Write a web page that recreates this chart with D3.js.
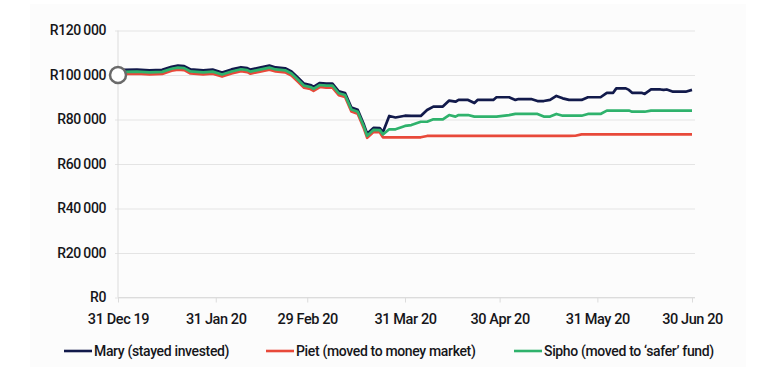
<!DOCTYPE html>
<html>
<head>
<meta charset="utf-8">
<style>
  body { margin: 0; background: #ffffff; }
  #vis-growth text { font-family: Roboto, "Noto Sans", sans-serif; fill: #16161a; }
</style>
</head>
<body>
<div id="vis-growth"></div>

<script src="https://d3js.org/d3.v7.min.js"></script>
<script>

// Data //
// ---- //

const dates = [
  "2019-12-31","2020-01-02","2020-01-06","2020-01-10","2020-01-14","2020-01-17","2020-01-19","2020-01-21",
  "2020-01-23","2020-01-27","2020-01-30","2020-02-02","2020-02-05","2020-02-08","2020-02-10","2020-02-11",
  "2020-02-14","2020-02-17","2020-02-19","2020-02-22","2020-02-24","2020-02-26","2020-02-28","2020-03-01",
  "2020-03-02","2020-03-04","2020-03-06","2020-03-08","2020-03-10","2020-03-12","2020-03-14","2020-03-16",
  "2020-03-18","2020-03-19","2020-03-21","2020-03-23","2020-03-24","2020-03-26","2020-03-28","2020-03-31",
  "2020-04-02","2020-04-05","2020-04-07","2020-04-09","2020-04-12","2020-04-14","2020-04-16","2020-04-17",
  "2020-04-20","2020-04-22","2020-04-23","2020-04-28","2020-04-29","2020-05-03","2020-05-05","2020-05-06",
  "2020-05-10","2020-05-12","2020-05-14","2020-05-16","2020-05-18","2020-05-20","2020-05-22","2020-05-24",
  "2020-05-26","2020-05-28","2020-06-01","2020-06-03","2020-06-05","2020-06-06","2020-06-09","2020-06-10",
  "2020-06-11","2020-06-14","2020-06-15","2020-06-17","2020-06-20","2020-06-21","2020-06-22","2020-06-24",
  "2020-06-28","2020-06-30"
];

const mary = [
  100000,102300,102400,102100,102300,103700,104200,104000,
  102500,102100,102400,101100,102500,103500,103100,102400,
  103300,104200,103400,103000,101600,98900,96100,95500,
  94700,96400,96100,96100,92700,91900,85400,84400,
  77600,73600,76200,76100,74300,81600,80900,81700,
  81600,81600,84300,85800,85800,88500,88000,88800,
  88800,87400,88800,88800,90000,90000,88800,89200,
  89200,88300,88300,88800,90600,89500,88800,88800,
  88800,90000,90000,92000,92000,94000,94000,93300,
  92000,92000,91500,93500,93500,93300,93500,92500,
  92500,93300
];

const piet = [
  100000,100500,100600,100300,100500,101900,102400,102200,
  100700,100300,100600,99300,100700,101700,101300,100600,
  101500,102400,101600,101200,99800,97100,94300,93700,
  92900,94600,94300,94300,90900,90100,83600,82600,
  75800,71800,74400,74300,72000,72000,72000,72000,
  72000,72000,72600,72600,72600,72600,72600,72600,
  72600,72600,72600,72600,72600,72600,72600,72600,
  72600,72600,72600,72600,72600,72600,72600,72700,
  73300,73300,73300,73300,73300,73300,73300,73300,
  73300,73300,73300,73300,73300,73300,73300,73300,
  73300,73300
];

const sipho = [
  100000,101400,101500,101200,101400,102800,103300,103100,
  101600,101200,101500,100200,101600,102600,102200,101500,
  102400,103300,102500,102100,100700,98000,95200,94600,
  93800,95500,95200,95200,91800,91000,84500,83500,
  76700,72700,75300,75200,73300,75600,75600,77100,
  77500,79000,79000,80100,80100,82000,81300,82000,
  82000,81300,81300,81300,81300,82000,82500,82500,
  82500,82500,81300,81300,82500,81700,81700,81700,
  81700,82500,82500,84000,84000,84000,84000,84000,
  83500,83500,83500,84000,84000,84000,84000,84000,
  84000,84000
];

const seriesNames = ["Mary (stayed invested)", "Piet (moved to money market)", "Sipho (moved to \u2018safer\u2019 fund)"];
const seriesColors = ["#121a4b", "#e8493a", "#2fb26c"];

const xTickDates = ["2019-12-31","2020-01-31","2020-02-29","2020-03-31","2020-04-30","2020-05-31","2020-06-30"];
const xTickLabels = ["31 Dec 19","31 Jan 20","29 Feb 20","31 Mar 20","30 Apr 20","31 May 20","30 Jun 20"];
const yTicks = [0, 20000, 40000, 60000, 80000, 100000, 120000];


// Setup //
// ----- //

const W = 768, H = 384;
const margin = {top: 30.5, right: 76, bottom: 86.5, left: 118};
const width = W - margin.left - margin.right,
      height = H - margin.top - margin.bottom;

const parse = d3.timeParse("%Y-%m-%d");

const svg = d3.select("#vis-growth")
  .append("svg")
    .attr("width", W)
    .attr("height", H);

// faint panel behind the chart
svg.append("rect")
  .attr("x", 30).attr("y", 4)
  .attr("width", 716).attr("height", 363)
  .attr("fill", "#fcfcfc");

const g = svg.append("g")
  .attr("transform", "translate(" + margin.left + "," + margin.top + ")");

const x = d3.scaleTime()
  .domain([parse("2019-12-31"), parse("2020-06-30")])
  .range([0, 574]);
const y = d3.scaleLinear().domain([0, 120000]).range([height, 0]);

// Gridlines + y labels
const fmt = v => "R" + (v === 0 ? "0" : d3.format(",")(v).replace(/,/g, "\u2009"));

g.append("g")
  .call(d3.axisLeft(y).tickValues(yTicks).tickSize(-577).tickPadding(12).tickFormat(fmt))
  .call(a => a.select(".domain").remove())
  .call(a => a.selectAll(".tick line").attr("stroke", "#e4e4e4").attr("x1", -3).attr("x2", 577))
  .call(a => a.selectAll(".tick text")
      .attr("font-size", 14).attr("font-weight", 500).attr("letter-spacing", "-0.4px"));

// y axis line
g.append("line")
  .attr("x1", 0).attr("x2", 0)
  .attr("y1", 0).attr("y2", height)
  .attr("stroke", "#dcdcdc");

// x axis
g.append("g")
  .attr("transform", "translate(0," + height + ")")
  .call(d3.axisBottom(x)
      .tickValues(xTickDates.map(parse))
      .tickSize(5).tickPadding(11)
      .tickFormat((d, i) => xTickLabels[i]))
  .call(a => a.select(".domain").attr("stroke", "#dcdcdc").attr("d", "M0,0H577"))
  .call(a => a.selectAll(".tick line").attr("stroke", "#dcdcdc"))
  .call(a => a.selectAll(".tick text")
      .attr("font-size", 14.5).attr("font-weight", 500).attr("letter-spacing", "-0.4px"));

// Lines //
// ----- //

const line = d3.line()
  .x((d, i) => x(parse(dates[i])))
  .y(d => y(d));

const drawOrder = [mary, piet, sipho];
drawOrder.forEach((vals, k) => {
  g.append("path")
    .datum(vals)
    .attr("d", line)
    .attr("fill", "none")
    .attr("stroke", seriesColors[k])
    .attr("stroke-width", 2.7)
    .attr("stroke-linejoin", "round");
});

// start marker
g.append("circle")
  .attr("cx", x(parse(dates[0])))
  .attr("cy", y(100000))
  .attr("r", 8)
  .attr("fill", "#ffffff")
  .attr("stroke", "#6a6a6a")
  .attr("stroke-width", 2.5);

// Legend //
// ------ //

const legendX = [64, 266, 514];
const legend = svg.append("g").attr("transform", "translate(0,351)");
seriesNames.forEach((name, k) => {
  legend.append("line")
    .attr("x1", legendX[k]).attr("x2", legendX[k] + 28)
    .attr("stroke", seriesColors[k])
    .attr("stroke-width", 2.6);
  legend.append("text")
    .attr("x", legendX[k] + 30)
    .attr("dy", "0.35em")
    .attr("font-size", 14)
    .attr("font-weight", 500)
    .attr("letter-spacing", "-0.35px")
    .text(name);
});

</script>
</body>
</html>
